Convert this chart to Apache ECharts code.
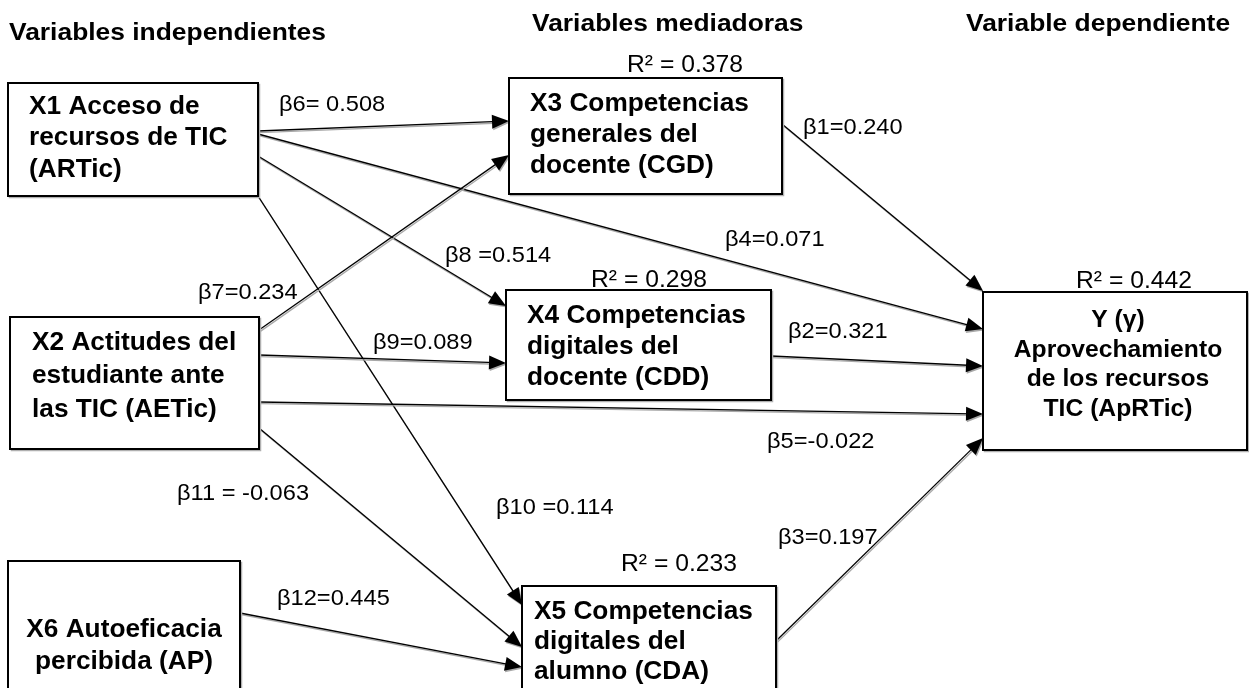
<!DOCTYPE html>
<html><head><meta charset="utf-8">
<script src="https://cdn.jsdelivr.net/npm/echarts@6/dist/echarts.min.js"></script>
<style>html,body{margin:0;padding:0;background:#fff}#c{width:1249px;height:688px}</style>
</head><body><div id="c"></div>
<script>
// ---------- data ----------
const nodeIds = ['X1','X2','X6','X3','X4','X5','Y'];
const nodeLabels = [
  ['X1 Acceso de','recursos de TIC','(ARTic)'],
  ['X2 Actitudes del','estudiante ante','las TIC (AETic)'],
  ['X6 Autoeficacia','percibida (AP)'],
  ['X3 Competencias','generales del','docente (CGD)'],
  ['X4 Competencias','digitales del','docente (CDD)'],
  ['X5 Competencias','digitales del','alumno (CDA)'],
  ['Y (γ)','Aprovechamiento','de los recursos','TIC (ApRTic)']
];
const r2Values = [null, null, null, 0.378, 0.298, 0.233, 0.442];
const edgeFrom = ['X1','X1','X1','X1','X2','X2','X2','X2','X6','X3','X4','X5'];
const edgeTo   = ['X3','Y','X4','X5','X3','X4','Y','X5','X5','Y','Y','Y'];
const betaNames  = ['β6','β4','β8','β10','β7','β9','β5','β11','β12','β1','β2','β3'];
const betaValues = [0.508, 0.071, 0.514, 0.114, 0.234, 0.089, -0.022, -0.063, 0.445, 0.240, 0.321, 0.197];
const betaSeparators = ['= ', '=', ' =', ' =', '=', '=', '=', ' = ', '=', '=', '=', '='];
const headers = ['Variables independientes', 'Variables mediadoras', 'Variable dependiente'];

// ---------- layout (positions / sizes only) ----------
const boxLayout = {
  X1: [8, 83, 250, 113], X2: [10, 317, 249, 132], X6: [8, 561, 232, 140],
  X3: [509, 78, 273, 116], X4: [506, 290, 265, 110], X5: [522, 586, 254, 120],
  Y: [983, 292, 264, 158]
};
const textLayout = {
  X1: {align:'left', x:29, y:107, lh:31.5, fs:25},
  X2: {align:'left', x:32, y:343, lh:33.5, fs:25},
  X6: {align:'center', x:124, y:630, lh:32, fs:25},
  X3: {align:'left', x:530, y:104, lh:31, fs:25},
  X4: {align:'left', x:527, y:316, lh:31, fs:25},
  X5: {align:'left', x:534, y:612, lh:30, fs:25},
  Y:  {align:'center', x:1118, y:321, lh:29.5, fs:23.5}
};
const edgePorts = [[131,121],[134,329],[156,306],[196,605],[330,155],[355,363],[402,414],[428,647],[613,667],[124,291],[356,366],[641,438]];
const betaLabelPos = [[279,105],[725,240],[445,256],[496,508],[198,293],[373,343],[767,442],[177,494],[277,599],[803,128],[788,332],[778,538]];
const r2LabelPos = {X3:[685,66], X4:[649,281], X5:[679,565], Y:[1134,282]};
const headerPos = [[9,33],[532,24],[966,24]];
const SX = 1.05;
const FONT = '"Liberation Sans", Arial, Helvetica, sans-serif';

function txt(api, x, y, text, font, align, sx) {
  const p = api.coord([x, y]);
  return { type:'text', x:p[0], y:p[1], scaleX: sx || SX,
    style:{ text:text, x:0, y:0, font:font, fill:'#000', align:align || 'left', verticalAlign:'middle' } };
}

const edgeSeries = {
  type:'custom', name:'edges', silent:true, z:1,
  data: betaValues.map((v,i)=>[i, v]),
  renderItem: function(params, api){
    const i = params.dataIndex;
    const s = boxLayout[edgeFrom[i]], t = boxLayout[edgeTo[i]];
    const p0 = api.coord([s[0]+s[2], edgePorts[i][0]]);
    const p1 = api.coord([t[0], edgePorts[i][1]]);
    let dx = p1[0]-p0[0], dy = p1[1]-p0[1];
    const len = Math.sqrt(dx*dx+dy*dy); dx/=len; dy/=len;
    const L = 17, W = 7;
    const b = [p1[0]-dx*L, p1[1]-dy*L];
    const tri = [p1, [b[0]-dy*W, b[1]+dx*W], [b[0]+dy*W, b[1]-dx*W]];
    const end = [p1[0]-dx*L*0.6, p1[1]-dy*L*0.6];
    const ox = 1, oy = 1.6;
    const sh = pts => pts.map(q=>[q[0]+ox, q[1]+oy]);
    return { type:'group', children:[
      {type:'line', shape:{x1:p0[0]+ox, y1:p0[1]+oy, x2:end[0]+ox, y2:end[1]+oy}, style:{stroke:'#a8a8a8', lineWidth:1.3}},
      {type:'polygon', shape:{points:sh(tri)}, style:{fill:'#a8a8a8'}},
      {type:'line', shape:{x1:p0[0], y1:p0[1], x2:end[0], y2:end[1]}, style:{stroke:'#000', lineWidth:1.3}},
      {type:'polygon', shape:{points:tri}, style:{fill:'#000'}}
    ]};
  }
};

const boxSeries = {
  type:'custom', name:'boxes', silent:true, z:2,
  data: nodeIds.map((id,i)=>[i, 0]),
  renderItem: function(params, api){
    const id = nodeIds[params.dataIndex];
    const b = boxLayout[id];
    const a = api.coord([b[0], b[1]]), c = api.coord([b[0]+b[2], b[1]+b[3]]);
    const tl = textLayout[id];
    const children = [
      {type:'rect', shape:{x:a[0]+1.5, y:a[1]+1.5, width:c[0]-a[0], height:c[1]-a[1]}, style:{fill:'none', stroke:'#b0b0b0', lineWidth:1.5}},
      {type:'rect', shape:{x:a[0], y:a[1], width:c[0]-a[0], height:c[1]-a[1]}, style:{fill:'#fff', stroke:'#000', lineWidth:2}}
    ];
    nodeLabels[params.dataIndex].forEach((line, k)=>{
      children.push(txt(api, tl.x, tl.y + k*tl.lh, line, 'bold ' + tl.fs + 'px ' + FONT, tl.align));
    });
    return {type:'group', children:children};
  }
};

const betaSeries = {
  type:'custom', name:'betas', silent:true, z:3,
  data: betaValues.map((v,i)=>[i, v]),
  renderItem: function(params, api){
    const i = params.dataIndex;
    const label = betaNames[i] + betaSeparators[i] + betaValues[i].toFixed(3);
    return txt(api, betaLabelPos[i][0], betaLabelPos[i][1], label, '22.5px ' + FONT, 'left');
  }
};

const r2Series = {
  type:'custom', name:'r2', silent:true, z:3,
  data: r2Values.map((v,i)=>[i, v == null ? 0 : v]),
  renderItem: function(params, api){
    const i = params.dataIndex;
    if (r2Values[i] == null) return null;
    const pos = r2LabelPos[nodeIds[i]];
    return txt(api, pos[0], pos[1], 'R² = ' + r2Values[i].toFixed(3), '23.5px ' + FONT, 'center');
  }
};

const headerSeries = {
  type:'custom', name:'headers', silent:true, z:3,
  data: headers.map((h,i)=>[i, 0]),
  renderItem: function(params, api){
    const i = params.dataIndex;
    return txt(api, headerPos[i][0], headerPos[i][1], headers[i], 'bold 24px ' + FONT, 'left', 1.1);
  }
};

const chart = echarts.init(document.getElementById('c'), null, {renderer:'canvas'});
chart.setOption({
  animation:false,
  backgroundColor:'#fff',
  grid:{left:0, right:0, top:0, bottom:0},
  xAxis:{type:'value', min:0, max:1249, show:false},
  yAxis:{type:'value', min:0, max:688, inverse:true, show:false},
  series:[edgeSeries, boxSeries, betaSeries, r2Series, headerSeries]
});
</script></body></html>
